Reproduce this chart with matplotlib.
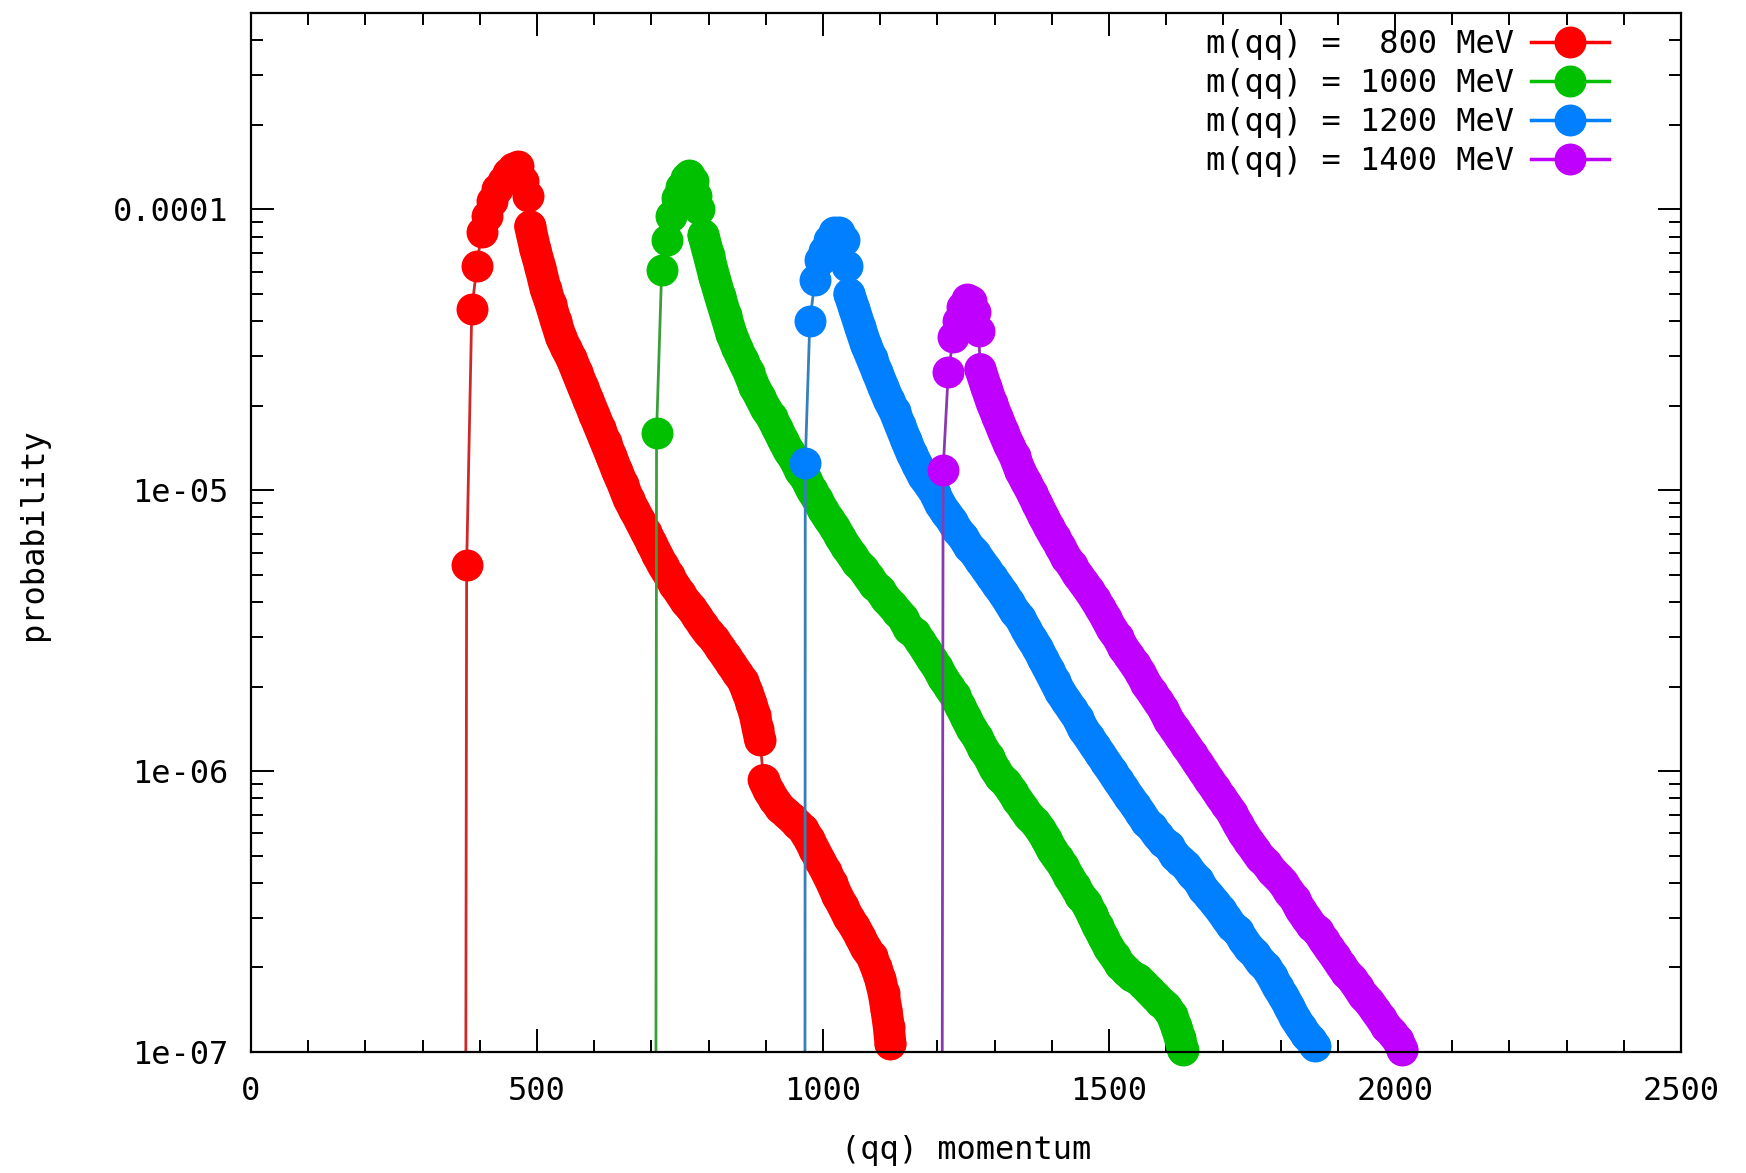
import numpy as np
import matplotlib
matplotlib.use('Agg')
import matplotlib.pyplot as plt
from matplotlib.lines import Line2D
from matplotlib.ticker import FixedLocator, FixedFormatter, MultipleLocator, LogLocator, NullFormatter

# (qq) momentum [MeV] and probability for each diquark mass
mom_800 = [374, 377, 386, 395, 403, 412, 421, 430, 440, 449,
           458, 467, 476, 484, 488, 497, 506, 515, 524, 533,
           542, 551, 560, 570, 580, 590, 600, 610, 620, 630,
           640, 650, 660, 670, 680, 690, 700, 710, 720, 730,
           740, 750, 760, 770, 780, 790, 800, 810, 820, 830,
           840, 850, 860, 868, 875, 881, 886, 890, 896, 905,
           915, 925, 935, 945, 955, 965, 975, 985, 995, 1005,
           1015, 1025, 1035, 1045, 1055, 1065, 1075, 1085, 1093, 1100,
           1106, 1111, 1115, 1118]
prob_800 = [1e-9, 5.4e-6, 4.4e-5, 6.3e-5, 8.3e-5, 9.5e-5, 1.07e-4, 1.18e-4, 1.26e-4, 1.35e-4,
            1.40e-4, 1.43e-4, 1.26e-4, 1.12e-4, 8.7e-5, 7.2e-5, 6.2e-5, 5.2e-5, 4.6e-5, 4.0e-5,
            3.5e-5, 3.2e-5, 2.95e-5, 2.63e-5, 2.34e-5, 2.09e-5, 1.86e-5, 1.66e-5, 1.48e-5, 1.32e-5,
            1.17e-5, 1.05e-5, 9.3e-6, 8.5e-6, 7.8e-6, 7.1e-6, 6.5e-6, 5.9e-6, 5.4e-6, 5.0e-6,
            4.6e-6, 4.3e-6, 4.0e-6, 3.8e-6, 3.55e-6, 3.3e-6, 3.1e-6, 2.95e-6, 2.75e-6, 2.57e-6,
            2.40e-6, 2.24e-6, 2.09e-6, 1.91e-6, 1.74e-6, 1.58e-6, 1.41e-6, 1.29e-6, 9.3e-7, 8.5e-7,
            7.9e-7, 7.4e-7, 7.1e-7, 6.8e-7, 6.5e-7, 6.2e-7, 5.75e-7, 5.25e-7, 4.8e-7, 4.4e-7,
            4.0e-7, 3.6e-7, 3.3e-7, 3.0e-7, 2.8e-7, 2.57e-7, 2.34e-7, 2.19e-7, 2.0e-7, 1.82e-7,
            1.62e-7, 1.41e-7, 1.23e-7, 1.07e-7]

mom_1000 = [707, 709, 718, 727, 735, 744, 752, 760, 766, 772,
            778, 784, 791, 800, 810, 820, 830, 840, 850, 860,
            870, 880, 890, 900, 910, 920, 930, 940, 950, 960,
            970, 980, 990, 1000, 1010, 1020, 1030, 1040, 1050, 1060,
            1070, 1080, 1090, 1100, 1110, 1120, 1130, 1140, 1150, 1160,
            1170, 1180, 1190, 1200, 1210, 1220, 1230, 1240, 1250, 1260,
            1270, 1280, 1290, 1300, 1310, 1320, 1330, 1340, 1350, 1360,
            1370, 1380, 1390, 1400, 1410, 1420, 1430, 1440, 1450, 1460,
            1470, 1480, 1490, 1500, 1510, 1520, 1530, 1540, 1550, 1560,
            1570, 1580, 1590, 1600, 1610, 1618, 1624, 1629]
prob_1000 = [1e-9, 1.6e-5, 6.1e-5, 7.8e-5, 9.5e-5, 1.10e-4, 1.20e-4, 1.29e-4, 1.32e-4, 1.26e-4,
             1.12e-4, 1.0e-4, 8.1e-5, 6.9e-5, 5.75e-5, 4.9e-5, 4.2e-5, 3.6e-5, 3.2e-5, 2.9e-5,
             2.63e-5, 2.34e-5, 2.14e-5, 1.95e-5, 1.82e-5, 1.66e-5, 1.51e-5, 1.38e-5, 1.29e-5, 1.17e-5,
             1.10e-5, 1.0e-5, 9.3e-6, 8.5e-6, 7.9e-6, 7.4e-6, 6.8e-6, 6.3e-6, 5.9e-6, 5.5e-6,
             5.25e-6, 4.9e-6, 4.6e-6, 4.4e-6, 4.1e-6, 3.9e-6, 3.7e-6, 3.5e-6, 3.2e-6, 3.1e-6,
             2.9e-6, 2.7e-6, 2.5e-6, 2.34e-6, 2.14e-6, 2.0e-6, 1.86e-6, 1.70e-6, 1.55e-6, 1.41e-6,
             1.32e-6, 1.20e-6, 1.12e-6, 1.02e-6, 9.5e-7, 9.1e-7, 8.5e-7, 7.9e-7, 7.4e-7, 6.9e-7,
             6.6e-7, 6.2e-7, 5.75e-7, 5.25e-7, 4.9e-7, 4.6e-7, 4.2e-7, 3.9e-7, 3.6e-7, 3.4e-7,
             3.1e-7, 2.8e-7, 2.57e-7, 2.34e-7, 2.19e-7, 2.04e-7, 1.95e-7, 1.86e-7, 1.82e-7, 1.74e-7,
             1.66e-7, 1.58e-7, 1.51e-7, 1.45e-7, 1.35e-7, 1.23e-7, 1.12e-7, 1.02e-7]

mom_1200 = [968, 969, 977, 986, 994, 1001, 1010, 1020, 1028, 1036,
            1042, 1046, 1055, 1065, 1075, 1085, 1095, 1105, 1115, 1125,
            1135, 1145, 1155, 1165, 1175, 1185, 1195, 1205, 1215, 1225,
            1235, 1245, 1255, 1265, 1275, 1285, 1295, 1305, 1315, 1325,
            1335, 1345, 1355, 1365, 1375, 1385, 1395, 1405, 1415, 1425,
            1435, 1445, 1455, 1465, 1475, 1485, 1495, 1505, 1515, 1525,
            1535, 1545, 1555, 1565, 1575, 1585, 1595, 1605, 1615, 1625,
            1635, 1645, 1655, 1665, 1675, 1685, 1695, 1705, 1715, 1725,
            1735, 1745, 1755, 1765, 1775, 1785, 1795, 1805, 1815, 1825,
            1835, 1845, 1853, 1860]
prob_1200 = [1e-9, 1.25e-5, 4.0e-5, 5.6e-5, 6.6e-5, 7.1e-5, 7.8e-5, 8.3e-5, 8.3e-5, 7.8e-5,
             6.3e-5, 5.0e-5, 4.4e-5, 3.8e-5, 3.3e-5, 2.95e-5, 2.63e-5, 2.34e-5, 2.09e-5, 1.91e-5,
             1.70e-5, 1.51e-5, 1.35e-5, 1.23e-5, 1.12e-5, 1.05e-5, 9.8e-6, 8.9e-6, 8.3e-6, 7.8e-6,
             7.2e-6, 6.8e-6, 6.3e-6, 6.0e-6, 5.6e-6, 5.25e-6, 4.9e-6, 4.6e-6, 4.3e-6, 4.0e-6,
             3.7e-6, 3.5e-6, 3.2e-6, 2.95e-6, 2.75e-6, 2.5e-6, 2.29e-6, 2.09e-6, 1.91e-6, 1.78e-6,
             1.66e-6, 1.55e-6, 1.41e-6, 1.32e-6, 1.23e-6, 1.15e-6, 1.07e-6, 1.0e-6, 9.3e-7, 8.7e-7,
             8.1e-7, 7.6e-7, 7.1e-7, 6.6e-7, 6.3e-7, 5.9e-7, 5.6e-7, 5.4e-7, 5.0e-7, 4.8e-7,
             4.6e-7, 4.3e-7, 4.1e-7, 3.8e-7, 3.6e-7, 3.4e-7, 3.2e-7, 3.0e-7, 2.8e-7, 2.7e-7,
             2.5e-7, 2.34e-7, 2.24e-7, 2.09e-7, 2.0e-7, 1.86e-7, 1.70e-7, 1.58e-7, 1.45e-7, 1.32e-7,
             1.23e-7, 1.15e-7, 1.10e-7, 1.05e-7]

mom_1400 = [1207, 1210, 1219, 1228, 1236, 1243, 1251, 1258, 1265, 1272,
            1275, 1285, 1295, 1305, 1315, 1325, 1335, 1345, 1355, 1365,
            1375, 1385, 1395, 1405, 1415, 1425, 1435, 1445, 1455, 1465,
            1475, 1485, 1495, 1505, 1515, 1525, 1535, 1545, 1555, 1565,
            1575, 1585, 1595, 1605, 1615, 1625, 1635, 1645, 1655, 1665,
            1675, 1685, 1695, 1705, 1715, 1725, 1735, 1745, 1755, 1765,
            1775, 1785, 1795, 1805, 1815, 1825, 1835, 1845, 1855, 1865,
            1875, 1885, 1895, 1905, 1915, 1925, 1935, 1945, 1955, 1965,
            1975, 1985, 1995, 2005, 2013]
prob_1400 = [1e-9, 1.18e-5, 2.63e-5, 3.5e-5, 4.0e-5, 4.5e-5, 4.8e-5, 4.7e-5, 4.3e-5, 3.7e-5,
             2.7e-5, 2.34e-5, 2.04e-5, 1.82e-5, 1.62e-5, 1.45e-5, 1.32e-5, 1.17e-5, 1.07e-5, 9.8e-6,
             8.9e-6, 8.1e-6, 7.4e-6, 6.8e-6, 6.3e-6, 5.75e-6, 5.4e-6, 5.0e-6, 4.7e-6, 4.4e-6,
             4.1e-6, 3.8e-6, 3.5e-6, 3.2e-6, 3.0e-6, 2.75e-6, 2.57e-6, 2.4e-6, 2.24e-6, 2.04e-6,
             1.91e-6, 1.78e-6, 1.66e-6, 1.51e-6, 1.41e-6, 1.32e-6, 1.23e-6, 1.15e-6, 1.07e-6, 1.0e-6,
             9.3e-7, 8.7e-7, 8.1e-7, 7.6e-7, 7.1e-7, 6.5e-7, 6.0e-7, 5.6e-7, 5.25e-7, 4.9e-7,
             4.7e-7, 4.4e-7, 4.2e-7, 4.0e-7, 3.7e-7, 3.5e-7, 3.2e-7, 3.0e-7, 2.8e-7, 2.7e-7,
             2.5e-7, 2.34e-7, 2.19e-7, 2.04e-7, 1.91e-7, 1.82e-7, 1.70e-7, 1.58e-7, 1.51e-7, 1.41e-7,
             1.32e-7, 1.23e-7, 1.17e-7, 1.10e-7, 1.02e-7]

labels = ['m(qq) =  800 MeV', 'm(qq) = 1000 MeV', 'm(qq) = 1200 MeV', 'm(qq) = 1400 MeV']
colors = ['#ff0000', '#00c000', '#0080ff', '#c000ff']
# the hairlines come out duller than the points
thin_colors = ['#cc2a2a', '#3a9e3a', '#3580bb', '#8a3ab0']

x_ticks = [0, 500, 1000, 1500, 2000, 2500]
x_ticklabels = ['0', '500', '1000', '1500', '2000', '2500']
y_ticks = [1e-7, 1e-6, 1e-5, 1e-4]
y_ticklabels = ['1e-07', '1e-06', '1e-05', '0.0001']

# momentum ranges where the points are packed so tightly they merge into a band
band_ranges = [[(488, 890), (896, 1118)],
               [(791, 1629)],
               [(1046, 1860)],
               [(1275, 2013)]]

PT = 23  # point diameter in pt

plt.rcParams['font.family'] = ['DejaVu Sans Mono']
plt.rcParams['font.size'] = 23

fig = plt.figure(figsize=(17.46, 11.73), dpi=100)
ax = fig.add_axes([251/1746, 1 - 1052/1173, 1430/1746, 1039/1173])

series = [(mom_800, prob_800), (mom_1000, prob_1000), (mom_1200, prob_1200), (mom_1400, prob_1400)]
handles = []
for (m, p), c, tc, bands in zip(series, colors, thin_colors, band_ranges):
    m = np.array(m)
    p = np.array(p)
    # thin connecting line, clipped to the frame (first point sits below the range)
    ax.plot(m, p, '-', color=tc, lw=2)
    # fill between neighbouring points on the dense tails
    for lo, hi in bands:
        sel = (m >= lo) & (m <= hi)
        ax.plot(m[sel], p[sel], '-', color=c, lw=PT, solid_capstyle='round',
                solid_joinstyle='round', clip_on=False)
    # big filled points, allowed to spill over the bottom edge like gnuplot does
    ax.plot(m[1:], p[1:], 'o', color=c, ms=PT, mew=0, clip_on=False)
    handles.append(Line2D([], [], color=c, lw=2.5, marker='o', ms=PT, mew=0))

ax.set_yscale('log')
ax.set_xlim(0, 2500)
ax.set_ylim(1e-7, 5e-4)

ax.xaxis.set_major_locator(FixedLocator(x_ticks))
ax.xaxis.set_major_formatter(FixedFormatter(x_ticklabels))
ax.xaxis.set_minor_locator(MultipleLocator(100))
ax.yaxis.set_major_locator(FixedLocator(y_ticks))
ax.yaxis.set_major_formatter(FixedFormatter(y_ticklabels))
ax.yaxis.set_minor_locator(LogLocator(base=10, subs=np.arange(2, 10), numticks=20))
ax.yaxis.set_minor_formatter(NullFormatter())

ax.tick_params(which='both', direction='in', top=True, right=True, width=1.4, colors='black')
ax.tick_params(which='major', length=16.5)
ax.tick_params(which='minor', length=8.5)
ax.tick_params(axis='y', which='major', pad=16)
ax.tick_params(axis='x', which='major', pad=17)
for s in ax.spines.values():
    s.set_linewidth(1.6)

ax.set_xlabel('(qq) momentum')
ax.xaxis.set_label_coords(0.5, -0.080)
ax.set_ylabel('probability')
ax.yaxis.set_label_coords(-0.152, 0.4985)
ax.yaxis.label.set_va('center')

ax.legend(handles, labels, loc='upper right', bbox_to_anchor=(0.9497, 0.9843),
          frameon=False, markerfirst=False, borderpad=0, borderaxespad=0,
          handlelength=2.45, handletextpad=0.53, labelspacing=0.25, numpoints=1)

fig.savefig('out.png', dpi=100, facecolor='white')
